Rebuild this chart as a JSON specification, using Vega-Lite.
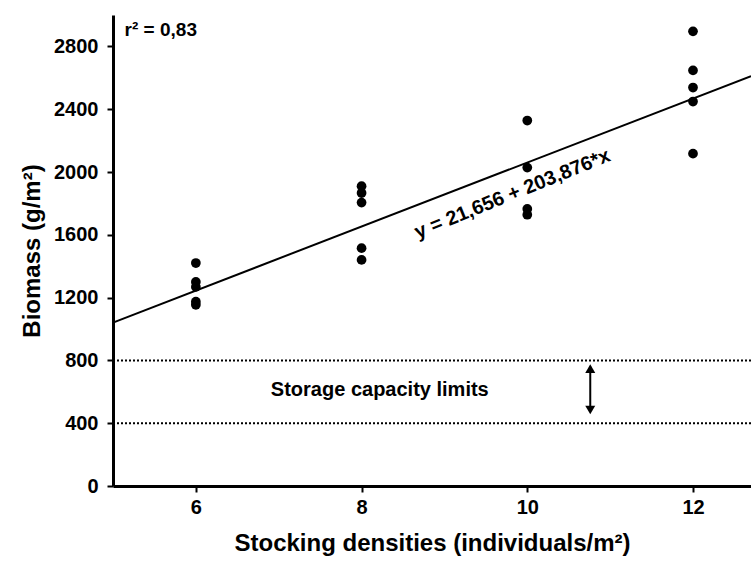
{
  "$schema": "https://vega.github.io/schema/vega-lite/v6.json",
  "autosize": "none",
  "width": 638,
  "height": 471,
  "padding": {"left": 113, "top": 15, "right": 0, "bottom": 79},
  "background": "white",
  "config": {
    "view": {"stroke": null},
    "font": "Liberation Sans",
    "axis": {
      "domainColor": "black",
      "domainWidth": 3,
      "tickColor": "black",
      "tickWidth": 2,
      "tickSize": 6,
      "grid": false,
      "labelFont": "Liberation Sans",
      "labelFontSize": 20,
      "labelFontWeight": "bold",
      "labelColor": "black",
      "titleFont": "Liberation Sans",
      "titleFontSize": 24,
      "titleFontWeight": "bold",
      "titleColor": "black"
    }
  },
  "datasets": {
    "points": [
      {"density": 6, "biomass": 1420},
      {"density": 6, "biomass": 1300},
      {"density": 6, "biomass": 1268},
      {"density": 6, "biomass": 1174},
      {"density": 6, "biomass": 1154},
      {"density": 8, "biomass": 1910},
      {"density": 8, "biomass": 1866},
      {"density": 8, "biomass": 1805},
      {"density": 8, "biomass": 1515},
      {"density": 8, "biomass": 1440},
      {"density": 10, "biomass": 2328},
      {"density": 10, "biomass": 2028},
      {"density": 10, "biomass": 1765},
      {"density": 10, "biomass": 1728},
      {"density": 12, "biomass": 2896},
      {"density": 12, "biomass": 2647},
      {"density": 12, "biomass": 2538},
      {"density": 12, "biomass": 2449},
      {"density": 12, "biomass": 2117}
    ],
    "fit": [
      {"density": 5, "biomass": 1041.0},
      {"density": 12.7, "biomass": 2610.9}
    ],
    "limits": [{"limit": 800}, {"limit": 400}],
    "arrow": [{"x": 10.76, "y1": 480, "y2": 760}],
    "heads": [
      {"x": 10.76, "y": 748, "shape": "triangle-up"},
      {"x": 10.76, "y": 484, "shape": "triangle-down"}
    ],
    "labels": [
      {"x": 9.82, "y": 1860, "text": "y = 21,656 + 203,876*x", "kind": "eq"},
      {"x": 8.22, "y": 612, "text": "Storage capacity limits", "kind": "storage"}
    ],
    "r2": [{"x": 5.14, "y": 2905, "text": "r² = 0,83"}]
  },
  "layer": [
    {
      "data": {"name": "limits"},
      "mark": {"type": "rule", "color": "black", "strokeWidth": 2, "strokeDash": [2, 2]},
      "encoding": {"y": {"field": "limit", "type": "quantitative"}}
    },
    {
      "data": {"name": "fit"},
      "mark": {"type": "line", "color": "black", "strokeWidth": 2},
      "encoding": {
        "x": {"field": "density", "type": "quantitative"},
        "y": {"field": "biomass", "type": "quantitative"}
      }
    },
    {
      "data": {"name": "points"},
      "mark": {"type": "point", "filled": true, "color": "black", "opacity": 1, "size": 95},
      "encoding": {
        "x": {
          "field": "density",
          "type": "quantitative",
          "scale": {"domain": [5, 12.7], "nice": false, "zero": false},
          "axis": {"values": [6, 8, 10, 12], "format": "d", "title": "Stocking densities (individuals/m²)", "titlePadding": 14, "labelPadding": 5}
        },
        "y": {
          "field": "biomass",
          "type": "quantitative",
          "scale": {"domain": [0, 3000], "nice": false},
          "axis": {"values": [0, 400, 800, 1200, 1600, 2000, 2400, 2800], "format": "d", "title": "Biomass (g/m²)", "titlePadding": 9, "labelPadding": 9}
        }
      }
    },
    {
      "data": {"name": "arrow"},
      "mark": {"type": "rule", "color": "black", "strokeWidth": 2},
      "encoding": {
        "x": {"field": "x", "type": "quantitative"},
        "y": {"field": "y1", "type": "quantitative"},
        "y2": {"field": "y2"}
      }
    },
    {
      "data": {"name": "heads"},
      "mark": {"type": "point", "filled": true, "color": "black", "opacity": 1, "size": 100},
      "encoding": {
        "x": {"field": "x", "type": "quantitative"},
        "y": {"field": "y", "type": "quantitative"},
        "shape": {"field": "shape", "type": "nominal", "scale": {"domain": ["triangle-up", "triangle-down"], "range": ["triangle-up", "triangle-down"]}, "legend": null}
      }
    },
    {
      "data": {"name": "labels"},
      "transform": [{"filter": "datum.kind == 'eq'"}],
      "mark": {"type": "text", "font": "Liberation Sans", "fontWeight": "bold", "fontSize": 20, "angle": -22, "align": "center", "baseline": "middle", "color": "black"},
      "encoding": {
        "x": {"field": "x", "type": "quantitative"},
        "y": {"field": "y", "type": "quantitative"},
        "text": {"field": "text"}
      }
    },
    {
      "data": {"name": "labels"},
      "transform": [{"filter": "datum.kind == 'storage'"}],
      "mark": {"type": "text", "font": "Liberation Sans", "fontWeight": "bold", "fontSize": 20, "align": "center", "baseline": "middle", "color": "black"},
      "encoding": {
        "x": {"field": "x", "type": "quantitative"},
        "y": {"field": "y", "type": "quantitative"},
        "text": {"field": "text"}
      }
    },
    {
      "data": {"name": "r2"},
      "mark": {"type": "text", "font": "Liberation Sans", "fontWeight": "bold", "fontSize": 19, "align": "left", "baseline": "middle", "color": "black"},
      "encoding": {
        "x": {"field": "x", "type": "quantitative"},
        "y": {"field": "y", "type": "quantitative"},
        "text": {"field": "text"}
      }
    }
  ]
}
